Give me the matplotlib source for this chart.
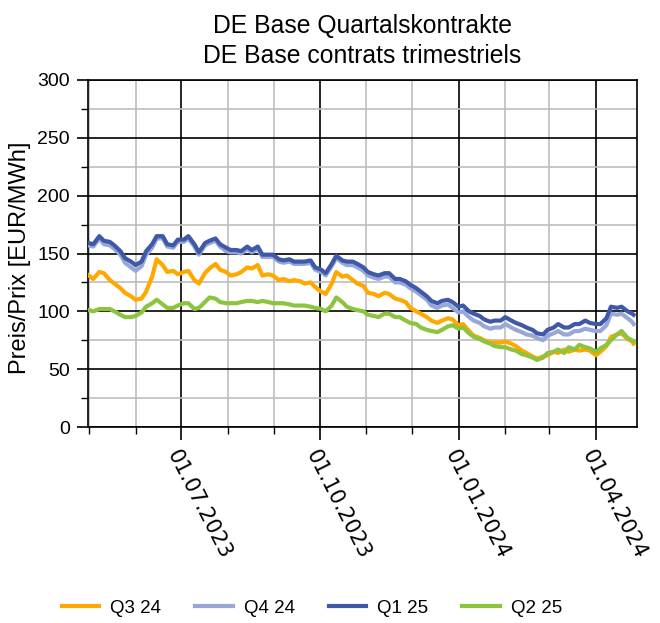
import matplotlib
matplotlib.use('Agg')
import matplotlib.pyplot as plt
import matplotlib.dates as mdates
from matplotlib.ticker import MultipleLocator
import pandas as pd

plt.rcParams['font.family'] = ['Liberation Sans', 'DejaVu Sans']

# ---- data (Mondays & Thursdays + last day) ----
mondays = pd.date_range('2023-05-01', '2024-04-22', freq='W-MON')
thursdays = pd.date_range('2023-05-04', '2024-04-25', freq='W-THU')
dates = sorted(list(mondays) + list(thursdays)) + [pd.Timestamp('2024-04-26')]

q3_24 = [131,128, 134,133, 127,124, 120,116, 113,110, 111,117, 130,145, 140,134, 135,132, 134,135,
         127,124, 133,137, 141,136, 134,131, 132,134, 138,137, 140,131, 132,131, 127,128, 126,127,
         126,124, 125,121, 117,115, 124,134, 130,131, 127,124, 122,116, 115,113, 116,115, 111,110,
         108,103, 100,98, 95,92, 90,92, 94,93, 88,89, 83,79, 77,75, 73,73, 73,74,
         72,70, 66,64, 61,59, 61,62, 65,64, 67,65, 67,66, 67,66, 62,65, 70,78,
         80,81, 76,74, 72]
q4_24 = [157,156, 163,158, 157,154, 149,142, 138,135, 139,149, 155,163, 163,156, 155,160, 160,163,
         156,149, 157,159, 161,156, 152,151, 151,150, 154,151, 154,147, 147,147, 143,142, 143,141,
         141,141, 142,136, 134,131, 139,146, 142,140, 140,138, 135,131, 129,128, 130,130, 125,125,
         123,120, 117,114, 110,105, 103,105, 106,103, 99,100, 95,92, 90,87, 85,86, 86,89,
         86,84, 82,80, 79,77, 75,79, 81,83, 80,80, 83,83, 85,84, 83,83, 88,98,
         97,98, 94,91, 89]
q1_25 = [159,158, 165,161, 160,157, 152,146, 143,140, 143,152, 158,165, 165,158, 157,162, 162,165,
         158,151, 159,161, 163,158, 155,153, 153,152, 156,153, 156,149, 149,149, 145,144, 145,143,
         143,143, 144,138, 136,133, 141,148, 144,143, 143,141, 138,134, 132,131, 133,133, 128,128,
         126,123, 120,117, 113,109, 107,109, 110,108, 104,105, 100,98, 96,93, 91,92, 92,95,
         92,90, 88,86, 84,81, 80,84, 86,89, 86,86, 89,89, 92,90, 89,89, 94,104,
         103,104, 100,98, 97]
q2_25 = [101,100, 102,102, 102,100, 97,95, 95,96, 99,104, 107,110, 106,103, 103,105, 107,107,
         102,103, 108,112, 111,108, 107,107, 107,108, 109,109, 108,109, 108,107, 107,107, 106,105,
         105,105, 104,103, 102,100, 105,112, 108,104, 102,101, 100,97, 96,95, 98,98, 95,95,
         92,90, 89,86, 84,83, 82,84, 87,88, 85,86, 81,78, 76,74, 72,70, 69,69,
         67,66, 63,62, 60,58, 60,64, 65,67, 64,69, 67,71, 69,68, 65,68, 71,75,
         80,83, 77,75, 74]

series_names = ['Q3 24', 'Q4 24', 'Q1 25', 'Q2 25']
series_vals = [q3_24, q4_24, q1_25, q2_25]
series_colors = ['#FFA800', '#97A8D8', '#3F58A8', '#8DC43F']

xtick_dates = ['2023-07-01', '2023-10-01', '2024-01-01', '2024-04-01']
xtick_labels = ['01.07.2023', '01.10.2023', '01.01.2024', '01.04.2024']

# ---- figure ----
W, H = 660, 623
fig = plt.figure(figsize=(W / 100, H / 100), dpi=100)
ax = fig.add_axes([88 / W, 1 - 427 / H, (637 - 88) / W, (427 - 80) / H])

lines = []
for name, vals, col in zip(series_names, series_vals, series_colors):
    ln, = ax.plot(dates, vals, color=col, lw=3.0, label=name, zorder=3)
    lines.append(ln)

ax.set_ylim(0, 300)
ax.set_xlim(pd.Timestamp('2023-04-30 12:00'), pd.Timestamp('2024-04-28 06:00'))

ax.yaxis.set_major_locator(MultipleLocator(50))
ax.yaxis.set_minor_locator(MultipleLocator(25))
ax.set_xticks([pd.Timestamp(d) for d in xtick_dates])
ax.xaxis.set_minor_locator(mdates.MonthLocator())

ax.grid(which='major', color='black', lw=1.2, zorder=1)
ax.grid(which='minor', color='#BDBDBD', lw=1.2, zorder=0)
ax.set_axisbelow(True)

for s in ax.spines.values():
    s.set_color('black')
    s.set_linewidth(1.2)

ax.tick_params(axis='y', which='major', length=8, width=1.2, direction='out',
               labelsize=14, pad=5)
ax.tick_params(axis='y', which='minor', length=5, width=1.0, direction='out')
ax.tick_params(axis='x', which='major', length=9, width=1.2, direction='out', pad=5)
ax.tick_params(axis='x', which='minor', length=5, width=1.0, direction='out')

ax.set_xticklabels(xtick_labels, rotation=-63, ha='left', va='top',
                   rotation_mode='anchor', fontsize=15, family='DejaVu Sans')

fig.text(20 / W, 1 - 258 / H, 'Preis/Prix [EUR/MWh]', rotation=90,
         ha='center', va='center', fontsize=17)

fig.text(362.5 / W, 1 - 33 / H, 'DE Base Quartalskontrakte', ha='center',
         va='baseline', fontsize=17.8)
fig.text(362.5 / W, 1 - 63 / H, 'DE Base contrats trimestriels', ha='center',
         va='baseline', fontsize=17.8)

fig.legend(lines, series_names, loc='center', bbox_to_anchor=(312 / W, 1 - 608 / H),
           ncol=4, frameon=False, fontsize=13.5, handlelength=2.0,
           handletextpad=0.6, columnspacing=1.8)

fig.savefig('out.png', dpi=100)
